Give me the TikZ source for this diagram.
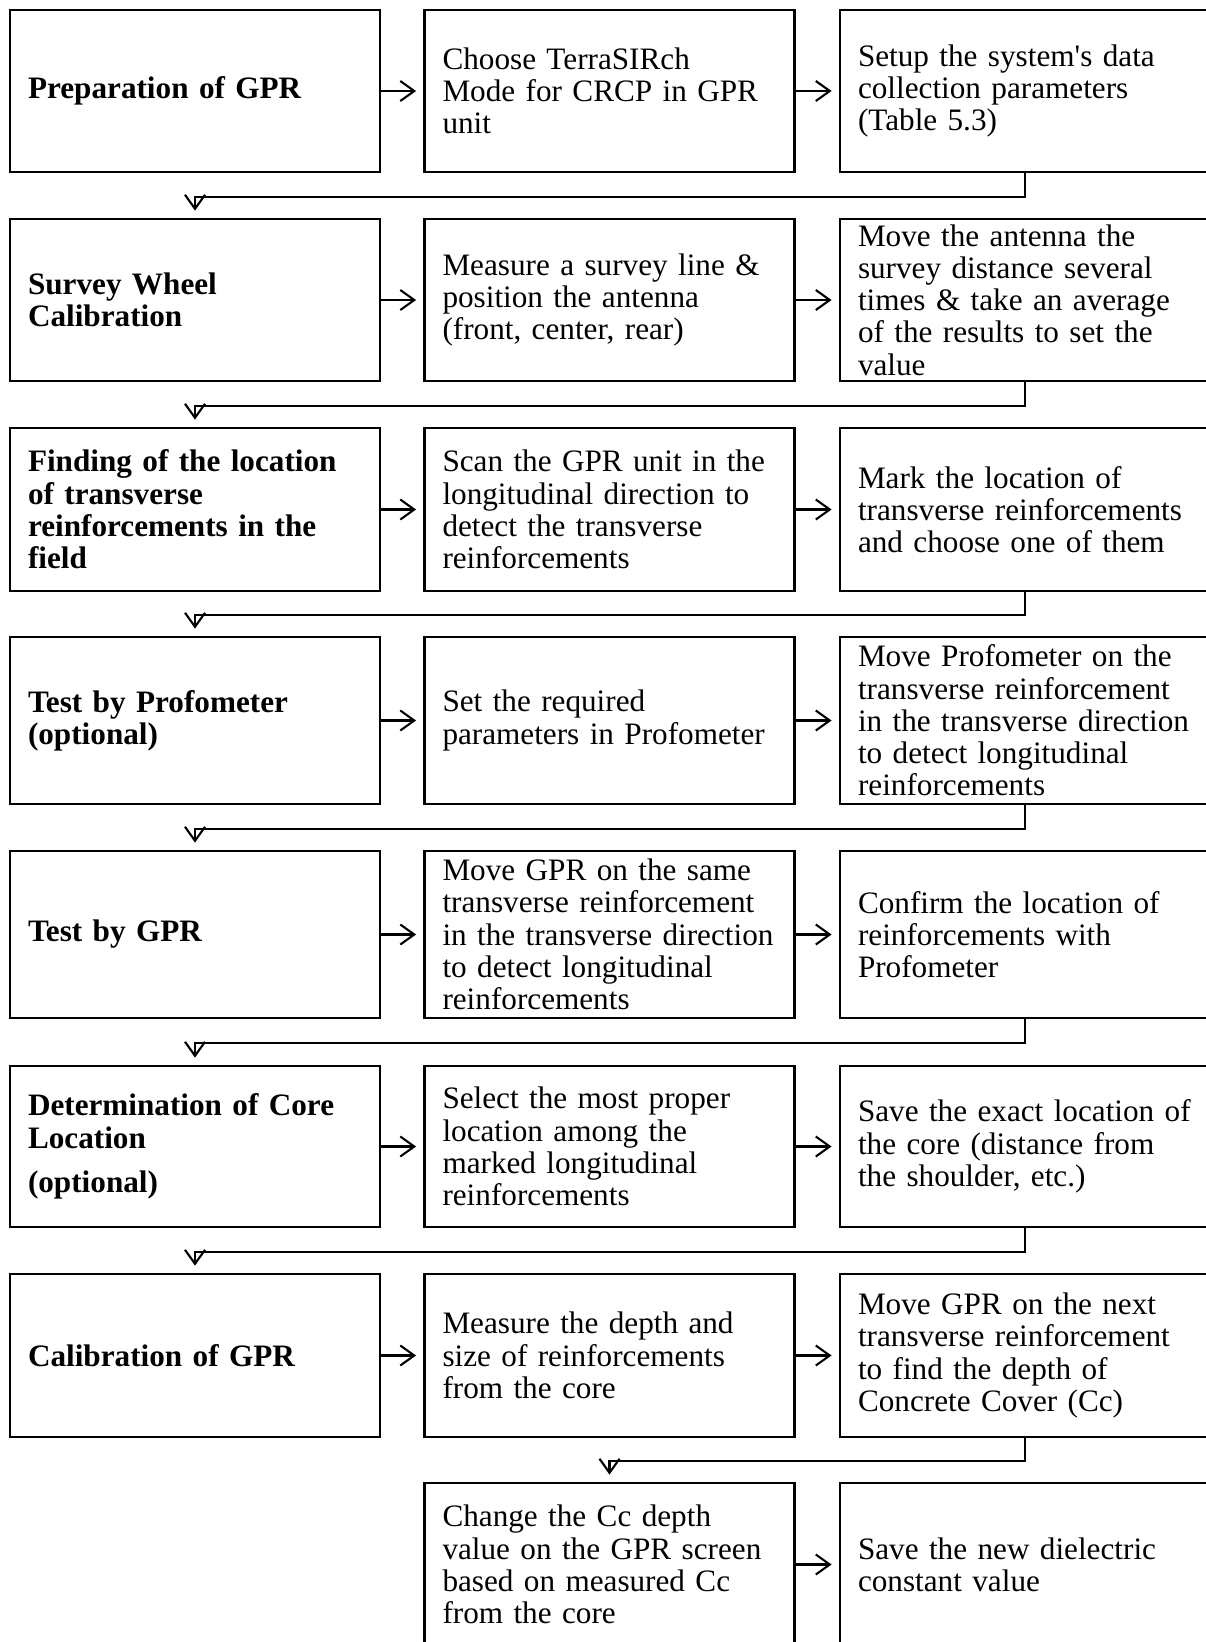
\documentclass[tikz,border=0pt]{standalone}
\usepackage{fontspec}
\setmainfont{Liberation Serif}[Ligatures=TeXOff]
\usetikzlibrary{arrows.meta}

\begin{document}
\begin{tikzpicture} [x=1pt, y=-1pt,
    >={Straight Barb[length=14pt,width=20pt]},
    box/.style = {draw, line width=2.8pt, text width=334pt, inner xsep=18pt, inner ysep=0pt,
                  minimum width=370pt, minimum height=162pt, align=left,
                  font=\fontsize{31.2}{32.3}\selectfont},
    head/.style = {box, font=\fontsize{31.2}{32.3}\selectfont\bfseries},
    ]
        \tikzset{stepline/.style = {->, line width=2.1pt, shorten >=7pt}}
        \tikzset{backline/.style = {->, line width=2.1pt, shorten >=7pt}}
    \useasboundingbox (0,0) rectangle (1206,1642);
    % row 1
    \node[head] at (195,91) (prep) {Preparation of GPR};
    \node[box] at (609.5,91) (mode) {Choose TerraSIRch\\Mode for CRCP in GPR\\unit};
    \node[box] at (1025,91) (setup) {Setup the system's data\\collection parameters\\(Table 5.3)};
    % row 2
    \node[head] at (195,300) (wheel) {Survey Wheel\\Calibration};
    \node[box] at (609.5,300) (survey) {Measure a survey line \&\\position the antenna\\(front, center, rear)};
    \node[box] at (1025,300) (average) {Move the antenna the\\survey distance several\\times \& take an average\\of the results to set the\\value};
    % row 3
    \node[head, minimum height=163pt] at (195,509.5) (find) {Finding of the location\\of transverse\\reinforcements in the\\field};
    \node[box, minimum height=163pt] at (609.5,509.5) (scan) {Scan the GPR unit in the\\longitudinal direction to\\detect the transverse\\reinforcements};
    \node[box, minimum height=163pt] at (1025,509.5) (mark) {Mark the location of\\transverse reinforcements\\and choose one of them};
    % row 4
    \node[head, minimum height=167pt] at (195,720.5) (profo) {Test by Profometer\\(optional)};
    \node[box, minimum height=167pt] at (609.5,720.5) (setpar) {Set the required\\parameters in Profometer};
    \node[box, minimum height=167pt] at (1025,720.5) (moveprofo) {Move Profometer on the\\transverse reinforcement\\in the transverse direction\\to detect longitudinal\\reinforcements};
    % row 5
    \node[head, minimum height=167pt] at (195,934.5) (gpr) {Test by GPR};
    \node[box, minimum height=167pt] at (609.5,934.5) (movegpr) {Move GPR on the same\\transverse reinforcement\\in the transverse direction\\to detect longitudinal\\reinforcements};
    \node[box, minimum height=167pt] at (1025,934.5) (confirm) {Confirm the location of\\reinforcements with\\Profometer};
    % row 6
    \node[head, minimum height=161pt] at (195,1146.5) (core) {Determination of Core\\Location\\[12pt](optional)};
    \node[box, minimum height=161pt] at (609.5,1146.5) (select) {Select the most proper\\location among the\\marked longitudinal\\reinforcements};
    \node[box, minimum height=161pt] at (1025,1146.5) (save) {Save the exact location of\\the core (distance from\\the shoulder, etc.)};
    % row 7
    \node[head, minimum height=163pt] at (195,1355.5) (calib) {Calibration of GPR};
    \node[box, minimum height=163pt] at (609.5,1355.5) (depth) {Measure the depth and\\size of reinforcements\\from the core};
    \node[box, minimum height=163pt] at (1025,1355.5) (next) {Move GPR on the next\\transverse reinforcement\\to find the depth of\\Concrete Cover (Cc)};
    % row 8
    \node[box, minimum height=163pt] at (609.5,1564.5) (change) {Change the Cc depth\\value on the GPR screen\\based on measured Cc\\from the core};
    \node[box, minimum height=163pt] at (1025,1564.5) (dielec) {Save the new dielectric\\constant value};

\path[stepline]
    (prep) edge (mode)
    (mode) edge (setup)
    (wheel) edge (survey)
    (survey) edge (average)
    (find) edge (scan)
    (scan) edge (mark)
    (profo) edge (setpar)
    (setpar) edge (moveprofo)
    (gpr) edge (movegpr)
    (movegpr) edge (confirm)
    (core) edge (select)
    (select) edge (save)
    (calib) edge (depth)
    (depth) edge (next)
    (change) edge (dielec);

    \draw[backline] (setup.south) -- ++(0,23.5) -| (wheel.north);
    \draw[backline] (average.south) -- ++(0,23.5) -| (find.north);
    \draw[backline] (mark.south) -- ++(0,23) -| (profo.north);
    \draw[backline] (moveprofo.south) -- ++(0,23.5) -| (gpr.north);
    \draw[backline] (confirm.south) -- ++(0,24) -| (core.north);
    \draw[backline] (save.south) -- ++(0,23.5) -| (calib.north);
    \draw[backline] (next.south) -- ++(0,23) -| (change.north);

\end{tikzpicture}
\end{document}
